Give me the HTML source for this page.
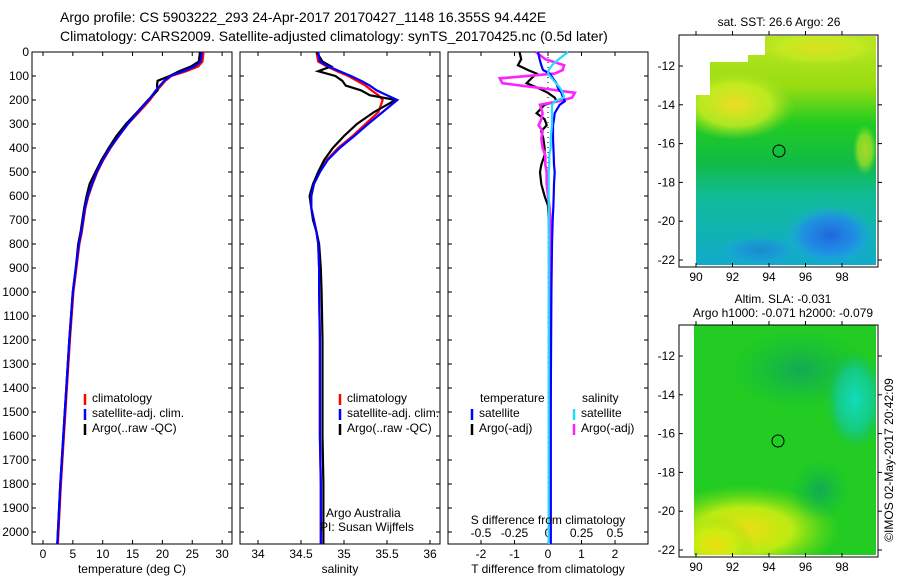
<!DOCTYPE html>
<html><head><meta charset="utf-8"><style>
html,body{margin:0;padding:0;background:#fff;width:900px;height:580px;overflow:hidden}
svg{display:block;font-family:"Liberation Sans",sans-serif}
text{font-size:12px;fill:#000}
</style></head><body>
<svg id="fig" width="900" height="580" viewBox="0 0 900 580">
<defs>
<linearGradient id="sstv" x1="0" y1="0" x2="0" y2="1">
<stop offset="0" stop-color="#bbe622"/><stop offset="0.22" stop-color="#99dd11"/><stop offset="0.38" stop-color="#22cc22"/><stop offset="0.55" stop-color="#11bb44"/><stop offset="0.7" stop-color="#11bb99"/><stop offset="1" stop-color="#11aacc"/>
</linearGradient>
<radialGradient id="blueblob" cx="0.5" cy="0.5" r="0.5"><stop offset="0" stop-color="#2266dd"/><stop offset="0.6" stop-color="#2288ee" stop-opacity="0.8"/><stop offset="1" stop-color="#22aaee" stop-opacity="0"/></radialGradient>
<radialGradient id="yelblob" cx="0.5" cy="0.5" r="0.5"><stop offset="0" stop-color="#eedd22"/><stop offset="0.6" stop-color="#ccee22" stop-opacity="0.8"/><stop offset="1" stop-color="#aadd22" stop-opacity="0"/></radialGradient>
<radialGradient id="tealblob" cx="0.5" cy="0.5" r="0.5"><stop offset="0" stop-color="#11ddbb"/><stop offset="0.6" stop-color="#11ccaa" stop-opacity="0.7"/><stop offset="1" stop-color="#11bb66" stop-opacity="0"/></radialGradient>
<radialGradient id="yel2" cx="0.5" cy="0.5" r="0.5"><stop offset="0" stop-color="#eedd11"/><stop offset="0.5" stop-color="#ccee11" stop-opacity="0.9"/><stop offset="1" stop-color="#88dd11" stop-opacity="0"/></radialGradient>
<radialGradient id="green2" cx="0.5" cy="0.5" r="0.5"><stop offset="0" stop-color="#11aa55"/><stop offset="1" stop-color="#11bb44" stop-opacity="0"/></radialGradient>
</defs>

<text x="60" y="22" style="font-size:14px">Argo profile: CS 5903222_293 24-Apr-2017 20170427_1148 16.355S 94.442E</text>
<text x="60" y="41" style="font-size:14px">Climatology: CARS2009. Satellite-adjusted climatology: synTS_20170425.nc (0.5d later)</text>

<g id="p1"></g>
<g id="p2"></g>
<g id="p3"></g>

<g>
<text x="779" y="26" text-anchor="middle">sat. SST: 26.6 Argo: 26</text>
<clipPath id="c1"><path d="M696,95 L710,95 L710,62 L748,62 L748,55 L765,55 L765,36 L876,36 L876,265 L696,265 Z"/></clipPath>
<g clip-path="url(#c1)">
<rect x="679" y="35" width="199" height="232" fill="url(#sstv)"/>
<ellipse cx="735" cy="105" rx="60" ry="35" fill="url(#yelblob)"/>
<ellipse cx="820" cy="48" rx="70" ry="20" fill="url(#yelblob)" opacity="0.7"/>
<ellipse cx="865" cy="150" rx="12" ry="25" fill="url(#yelblob)" opacity="0.7"/>
<ellipse cx="830" cy="235" rx="45" ry="30" fill="url(#blueblob)"/>
<ellipse cx="760" cy="250" rx="40" ry="15" fill="url(#blueblob)" opacity="0.5"/>
</g>
<rect x="679" y="35" width="199" height="232" fill="none" stroke="#000"/>
<circle cx="779" cy="151" r="6" fill="none" stroke="#000"/>
<g id="m1ticks"></g>
</g>

<g>
<text x="783" y="303" text-anchor="middle">Altim. SLA: -0.031</text>
<text x="783" y="317" text-anchor="middle">Argo h1000: -0.071 h2000: -0.079</text>
<clipPath id="c2"><rect x="694" y="325" width="182" height="230"/></clipPath>
<g clip-path="url(#c2)">
<rect x="694" y="325" width="182" height="230" fill="#22cc22"/>
<ellipse cx="800" cy="370" rx="70" ry="40" fill="url(#green2)"/>
<ellipse cx="855" cy="400" rx="30" ry="50" fill="url(#tealblob)"/>
<ellipse cx="745" cy="530" rx="95" ry="45" fill="url(#yel2)"/>
<ellipse cx="715" cy="545" rx="40" ry="30" fill="url(#yel2)"/>
<ellipse cx="820" cy="490" rx="30" ry="30" fill="url(#green2)"/>
</g>
<rect x="679" y="325" width="199" height="232" fill="none" stroke="#000"/>
<circle cx="778" cy="441" r="6" fill="none" stroke="#000"/>
<g id="m2ticks"></g>
<text transform="translate(893,460) rotate(-90)" text-anchor="middle">©IMOS 02-May-2017 20:42:09</text>
</g>
</svg>
<script>
const depthTicks=[0,100,200,300,400,500,600,700,800,900,1000,1100,1200,1300,1400,1500,1600,1700,1800,1900,2000];
const tempTicks=[0,5,10,15,20,25,30];
const salTicks=[34,34.5,35,35.5,36];
const tdTickLabels=[-2,-1,0,1,2];
const sdTickLabels=[-0.5,-0.25,0,0.25,0.5];
const zDepth=[0,40,60,80,100,120,140,160,180,200,250,300,350,400,450,500,550,600,650,700,750,800,900,1000,1200,1400,1600,1800,2000,2050];
const tClim=[26.9,26.7,26,24,21.5,20.5,19.8,19.1,18.5,17.9,16.1,14.2,12.7,11.3,10.1,9.1,8.3,7.6,7.1,6.8,6.5,6.1,5.6,5.1,4.5,4.0,3.5,3.0,2.6,2.5];
const tSat=[26.6,26.4,25.4,23.5,21.3,20.3,19.6,18.9,18.3,17.7,15.9,14.2,12.7,11.2,10.0,9.0,8.2,7.5,7.0,6.7,6.4,6.0,5.5,5.0,4.4,3.9,3.4,2.9,2.5,2.4];
const tArgo=[26.3,26.1,24.8,22.8,21.2,19.2,19.1,19.2,18.4,17.6,15.8,13.9,12.3,11.0,9.8,8.8,7.8,7.3,6.9,6.6,6.3,5.9,5.5,5.0,4.4,3.9,3.4,2.9,2.5,2.4];
const sClim=[34.68,34.7,34.8,34.92,35.05,35.15,35.25,35.32,35.4,35.45,35.4,35.25,35.1,34.93,34.8,34.72,34.65,34.62,34.62,34.65,34.68,34.7,34.71,34.71,34.72,34.72,34.72,34.73,34.73,34.73];
const sSat=[34.7,34.72,34.82,34.95,35.08,35.2,35.3,35.38,35.5,35.62,35.45,35.28,35.12,34.95,34.81,34.72,34.65,34.62,34.62,34.65,34.68,34.7,34.71,34.71,34.72,34.72,34.72,34.73,34.73,34.73];
const sArgo=[34.68,34.75,34.85,34.7,34.9,34.98,35.02,35.2,35.3,35.6,35.35,35.15,35.0,34.87,34.77,34.7,34.64,34.6,34.62,34.64,34.68,34.71,34.73,34.74,34.75,34.75,34.75,34.76,34.76,34.76];
const dDepth=[0,30,55,75,90,110,130,150,170,190,205,220,255,280,305,330,360,400,430,470,500,550,600,640,700,800,1000,1500,2050];
const tdSat=[-0.3,-0.25,-0.2,-0.15,0.05,0.15,0.25,0.3,0.4,0.45,0.5,0.35,0.2,0.18,0.15,0.15,0.15,0.16,0.17,0.18,0.2,0.18,0.17,0.16,0.14,0.12,0.1,0.08,0.08];
const tdArgo=[-0.85,-0.8,-0.9,-0.6,-0.34,-0.5,-0.64,-0.3,0.0,0.2,0.26,-0.1,-0.34,-0.1,-0.04,-0.2,-0.14,-0.1,-0.1,-0.2,-0.24,-0.2,-0.1,0.0,0.02,0.04,0.04,0.04,0.04];
const sdSat=[0.15,0.08,0.03,0.005,0.0,0.03,0.06,0.09,0.11,0.12,0.05,0.03,0.03,0.03,0.03,0.025,0.02,0.02,0.01,0.01,0.005,0.005,0.005,0.005,0.005,0.005,0.005,0.005,0.005];
const sdArgo=[-0.09,-0.02,0.12,0.11,0.05,-0.36,-0.34,-0.06,0.2,0.18,0.08,-0.06,-0.04,-0.05,-0.07,-0.04,-0.05,-0.04,-0.02,-0.02,-0.01,-0.01,0.0,0.01,0.02,0.02,0.02,0.02,0.02];
const lonTicks=[90,92,94,96,98];
const latTicks=[-12,-14,-16,-18,-20,-22];

const NS="http://www.w3.org/2000/svg";
function mk(parent,tag,attrs){const e=document.createElementNS(NS,tag);for(const k in attrs)e.setAttribute(k,attrs[k]);parent.appendChild(e);return e;}
const yTop=52,yBot=544;
function yD(d){return yTop+d*0.24;}
function line(g,xs,ds,xf,color,name,dash,w){
  const pts=xs.map((v,i)=>xf(v).toFixed(1)+","+yD(ds[i]).toFixed(1)).join(" ");
  const p=mk(g,"polyline",{points:pts,fill:"none",stroke:color,"stroke-width":w||2.2});
  if(dash)p.setAttribute("stroke-dasharray",dash);
  
  
}
function frame(g,x0,x1,name){
  const r=mk(g,"rect",{x:x0,y:yTop,width:x1-x0,height:yBot-yTop,fill:"none",stroke:"#000"});
  
  
}
function xticks(g,vals,xf,labels,y,top){
  vals.forEach((v,i)=>{
    const x=xf(v);
    mk(g,"line",{x1:x,x2:x,y1:yBot,y2:yBot-4,stroke:"#000"});
    if(top)mk(g,"line",{x1:x,x2:x,y1:yTop,y2:yTop+4,stroke:"#000"});
    const t=mk(g,"text",{x:x,y:y,"text-anchor":"middle"});t.textContent=labels[i];
    
    
  });
}
function legend(g,x,y,items){
  items.forEach((it,i)=>{
    const yy=y+i*15;
    mk(g,"line",{x1:x,x2:x,y1:yy-8,y2:yy+3,stroke:it[1],"stroke-width":2.5});
    const t=mk(g,"text",{x:x+7,y:yy});t.textContent=it[0];
    
    
  });
}
function label(g,x,y,txt,name,anchor){
  const t=mk(g,"text",{x:x,y:y,"text-anchor":anchor||"middle"});t.textContent=txt;
  
  
}

const p1=document.getElementById("p1");
const xT=v=>43+v*5.97;
frame(p1,32,232,"temperature-axes-frame");
depthTicks.forEach(d=>{
  const y=yD(d);
  mk(p1,"line",{x1:32,x2:36,y1:y,y2:y,stroke:"#000"});
  mk(p1,"line",{x1:232,x2:228,y1:y,y2:y,stroke:"#000"});
  const t=mk(p1,"text",{x:29,y:y+4,"text-anchor":"end"});t.textContent=d;
  
  
});
xticks(p1,tempTicks,xT,tempTicks,558,true);
label(p1,132,573,"temperature (deg C)","temperature-axis-title");
line(p1,tClim,zDepth,xT,"#ff0000","temperature-climatology-line");
line(p1,tArgo,zDepth,xT,"#000000","temperature-argo-line");
line(p1,tSat,zDepth,xT,"#0000ff","temperature-satellite-line");
legend(p1,85,402,[["climatology","#ff0000"],["satellite-adj. clim.","#0000ff"],["Argo(..raw -QC)","#000"]]);

const p2=document.getElementById("p2");
const xS=v=>258+(v-34)*86;
frame(p2,240,440,"salinity-axes-frame");
depthTicks.forEach(d=>{const y=yD(d);mk(p2,"line",{x1:240,x2:244,y1:y,y2:y,stroke:"#000"});mk(p2,"line",{x1:440,x2:436,y1:y,y2:y,stroke:"#000"});});
xticks(p2,salTicks,xS,salTicks,558,true);
label(p2,340,573,"salinity","salinity-axis-title");
line(p2,sClim,zDepth,xS,"#ff0000","salinity-climatology-line");
line(p2,sArgo,zDepth,xS,"#000000","salinity-argo-line");
line(p2,sSat,zDepth,xS,"#0000ff","salinity-satellite-line");
legend(p2,340,402,[["climatology","#ff0000"],["satellite-adj. clim.","#0000ff"],["Argo(..raw -QC)","#000"]]);
label(p2,326,517,"Argo Australia","argo-australia-note","start");
label(p2,320,531,"PI: Susan Wijffels","pi-note","start");

const p3=document.getElementById("p3");
const xTD=v=>548+v*33.5;
const xSD=v=>548+v*134;
frame(p3,448,648,"difference-axes-frame");
depthTicks.forEach(d=>{const y=yD(d);mk(p3,"line",{x1:448,x2:452,y1:y,y2:y,stroke:"#000"});mk(p3,"line",{x1:648,x2:644,y1:y,y2:y,stroke:"#000"});});
xticks(p3,tdTickLabels,xTD,tdTickLabels,558,true);
sdTickLabels.forEach((v,i)=>{
  const t=mk(p3,"text",{x:xSD(v),y:537,"text-anchor":"middle"});t.textContent=sdTickLabels[i];
  
  
});
label(p3,548,573,"T difference from climatology","t-diff-axis-title");
mk(p3,"line",{x1:548,x2:548,y1:yTop,y2:yBot,stroke:"#000","stroke-dasharray":"1,4"});
line(p3,tdArgo,dDepth,xTD,"#000000","t-diff-argo-line");
line(p3,sdArgo,dDepth,xSD,"#ff22ff","s-diff-argo-line",null,2.6);
line(p3,tdSat,dDepth,xTD,"#0000ff","t-diff-satellite-line");
line(p3,sdSat,dDepth,xSD,"#22ddff","s-diff-satellite-line");
label(p3,548,524,"S difference from climatology","s-diff-axis-title");
label(p3,480,402,"temperature","legend-temperature-heading","start");
label(p3,582,402,"salinity","legend-salinity-heading","start");
legend(p3,472,417,[["satellite","#0000ff"],["Argo(-adj)","#000"]]);
legend(p3,574,417,[["satellite","#22ddff"],["Argo(-adj)","#ff22ff"]]);

function mapTicks(id,yTopM,yBotM,latY0,latStep){
  const g=document.getElementById(id);
  lonTicks.forEach(v=>{
    const x=696+(v-90)*18.25;
    mk(g,"line",{x1:x,x2:x,y1:yBotM,y2:yBotM-4,stroke:"#000"});
    mk(g,"line",{x1:x,x2:x,y1:yTopM,y2:yTopM-4,stroke:"#000"});
    const t=mk(g,"text",{x:x,y:yBotM+14,"text-anchor":"middle"});t.textContent=v;
    
    
  });
  latTicks.forEach(v=>{
    const y=latY0+(-12-v)*latStep;
    mk(g,"line",{x1:679,x2:683,y1:y,y2:y,stroke:"#000"});
    mk(g,"line",{x1:878,x2:882,y1:y,y2:y,stroke:"#000"});
    const t=mk(g,"text",{x:675,y:y+4,"text-anchor":"end"});t.textContent=v;
    
    
  });
}
mapTicks("m1ticks",35,267,66,19.4);
mapTicks("m2ticks",325,557,356,19.4);
</script>
</body></html>
